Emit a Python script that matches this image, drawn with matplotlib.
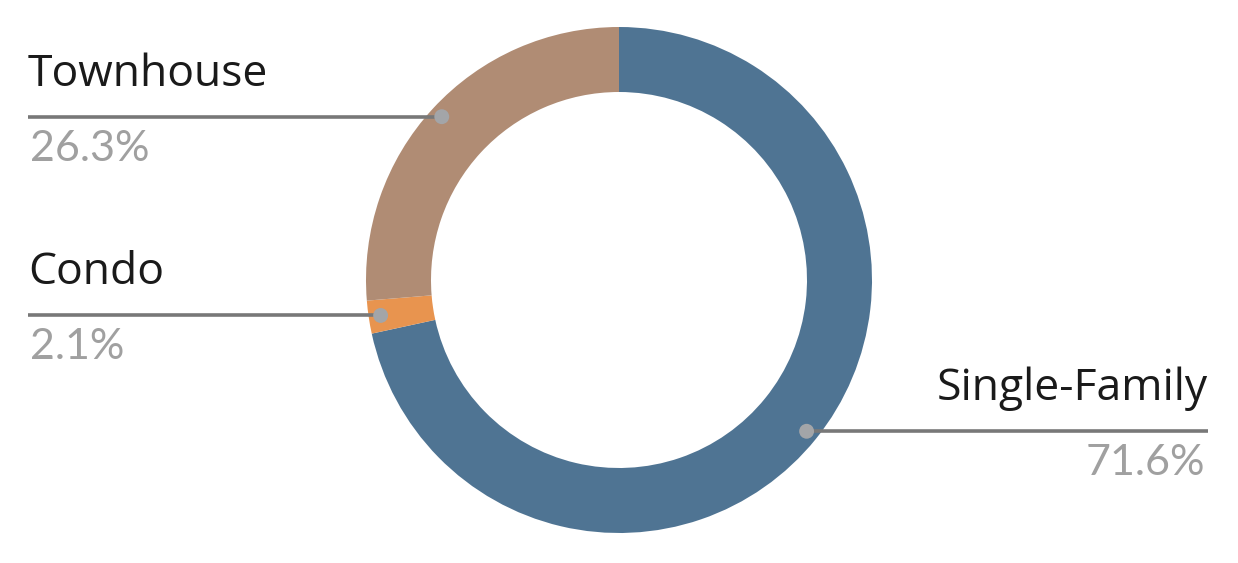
import numpy as np
from matplotlib import pyplot as plt

# datos del grafico de dona
categorias = ["Single-Family", "Condo", "Townhouse"]
porcentajes = [71.6, 2.1, 26.3]
colores = ["#4F7493", "#E8944F", "#B08C74"]
etiquetas_pct = ["71.6%", "2.1%", "26.3%"]
# lado de la etiqueta (1 = derecha, -1 = izquierda)
lados = [1, -1, -1]

W, H = 1238, 563
fig = plt.figure(figsize=(W / 100, H / 100), dpi=100)
ax = fig.add_axes([0, 0, 1, 1])

cx, cy = 619, 563 - 280
r_ext = 253
ancho = 65

cunas, _ = ax.pie(porcentajes, colors=colores, startangle=90, counterclock=False,
                  radius=r_ext, center=(cx, cy),
                  wedgeprops=dict(width=ancho, edgecolor="none", linewidth=0))

ax.set_xlim(0, W)
ax.set_ylim(0, H)
ax.set_aspect("equal")
ax.axis("off")

r_punto = r_ext - 12
for c, w, pct, lado in zip(categorias, cunas, etiquetas_pct, lados):
    ang = np.deg2rad((w.theta1 + w.theta2) / 2)
    px = cx + r_punto * np.cos(ang)
    py = cy + r_punto * np.sin(ang)
    xfin = 28 if lado < 0 else 1208
    ax.plot([px, xfin], [py, py], color="#787878", lw=2.6, solid_capstyle="butt", zorder=3)
    ax.scatter([px], [py], s=115, color="#A3A5A8", edgecolor="none", zorder=4)
    ha = "left" if lado < 0 else "right"
    ax.text(xfin, py + 31, c, ha=ha, va="baseline", fontsize=32, color="#1A1A1A",
            family="Open Sans")
    ax.text(xfin + (2 if lado < 0 else -3), py - 44, pct, ha=ha, va="baseline",
            fontsize=31, color="#A0A0A0", family="Lato")

fig.savefig("out.png", dpi=100)
